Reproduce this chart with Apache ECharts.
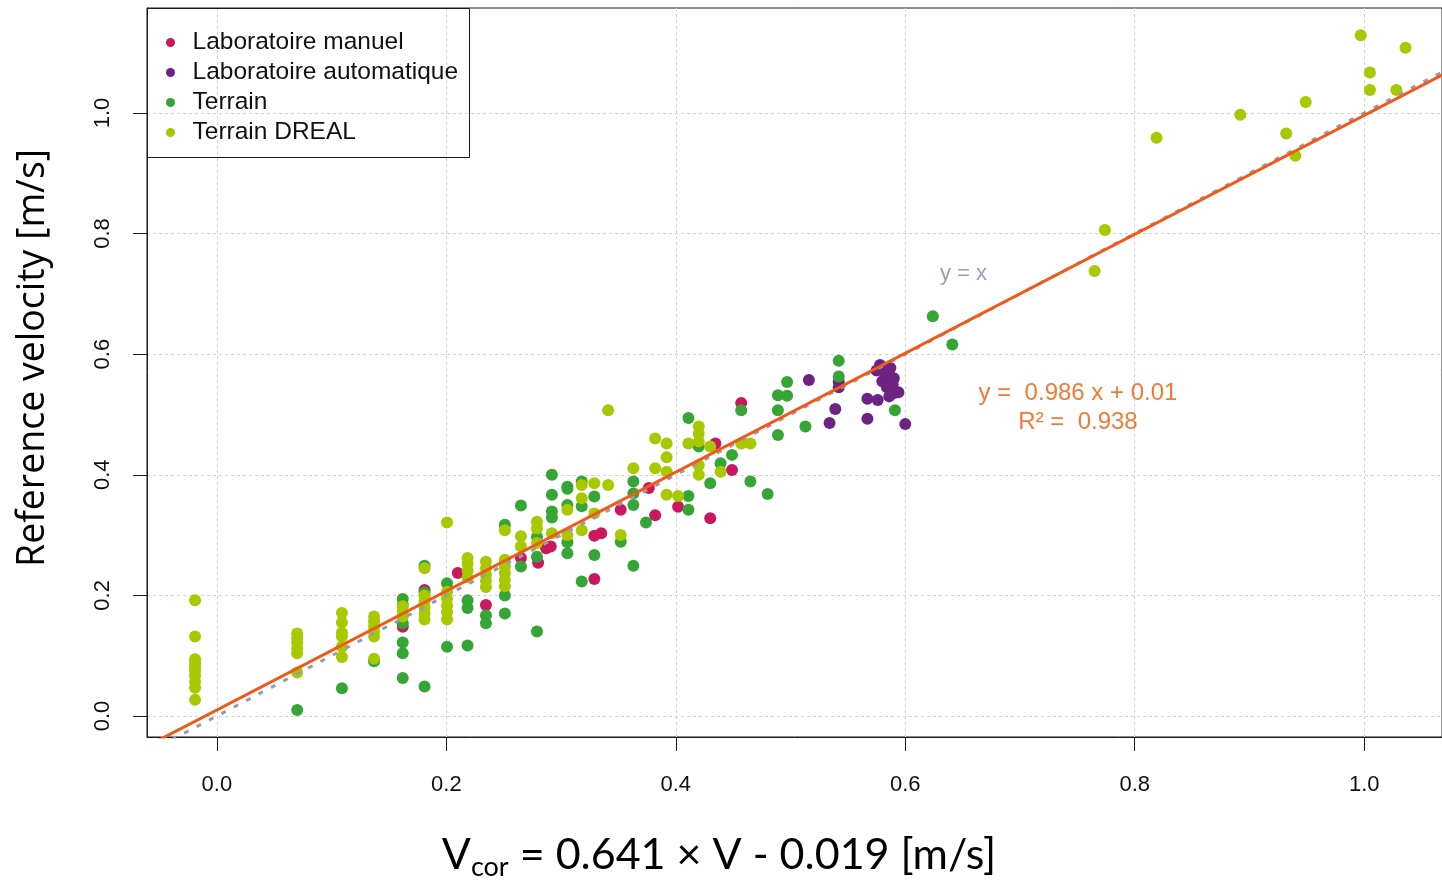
<!DOCTYPE html>
<html>
<head>
<meta charset="utf-8">
<script src="https://cdn.jsdelivr.net/npm/echarts@6/dist/echarts.min.js"></script>
<style>
  html, body { margin: 0; padding: 0; background: #ffffff; }
  #chart { width: 1442px; height: 881px; }
</style>
</head>
<body>
<div id="chart"></div>
<script>
// ---- data -----------------------------------------------------------------
const seriesNames = ['Laboratoire manuel', 'Laboratoire automatique', 'Terrain', 'Terrain DREAL'];
const seriesColors = ['#c9185f', '#6c2381', '#35a535', '#a8c800'];

// [corrected velocity, reference velocity] in m/s
const laboManuel = [
  [0.162, 0.148], [0.181, 0.209], [0.210, 0.237], [0.2345, 0.184], [0.265, 0.262],
  [0.280, 0.254], [0.287, 0.278], [0.291, 0.281], [0.329, 0.299], [0.335, 0.303],
  [0.329, 0.227], [0.352, 0.342], [0.3765, 0.378], [0.382, 0.333], [0.402, 0.347],
  [0.430, 0.328], [0.4345, 0.452], [0.449, 0.408], [0.457, 0.519]
];

const laboAuto = [
  [0.516, 0.557], [0.534, 0.486], [0.539, 0.509], [0.542, 0.554], [0.542, 0.545],
  [0.567, 0.526], [0.567, 0.493], [0.576, 0.524], [0.578, 0.582], [0.587, 0.577],
  [0.583, 0.563], [0.590, 0.560], [0.580, 0.555], [0.584, 0.545], [0.591, 0.536],
  [0.594, 0.537], [0.586, 0.530], [0.589, 0.550], [0.582, 0.570], [0.575, 0.573],
  [0.600, 0.484]
];

const terrain = [
  [0.070, 0.010], [0.109, 0.046], [0.137, 0.091],
  [0.162, 0.194], [0.162, 0.184], [0.162, 0.154], [0.162, 0.122], [0.162, 0.104], [0.162, 0.063],
  [0.181, 0.249], [0.181, 0.205], [0.181, 0.049],
  [0.2006, 0.220], [0.2006, 0.115],
  [0.2185, 0.192], [0.2185, 0.179], [0.2185, 0.117],
  [0.2345, 0.167], [0.2345, 0.154],
  [0.251, 0.317], [0.251, 0.200], [0.251, 0.170],
  [0.265, 0.349], [0.265, 0.248],
  [0.279, 0.297], [0.279, 0.264], [0.279, 0.140],
  [0.292, 0.400], [0.292, 0.367], [0.292, 0.339], [0.292, 0.329],
  [0.3055, 0.380], [0.3055, 0.377], [0.3055, 0.350], [0.3055, 0.288], [0.3055, 0.270],
  [0.318, 0.389], [0.318, 0.348], [0.318, 0.223],
  [0.329, 0.364], [0.329, 0.267],
  [0.352, 0.289],
  [0.363, 0.389], [0.363, 0.369], [0.363, 0.350], [0.363, 0.249],
  [0.374, 0.321],
  [0.411, 0.494], [0.411, 0.365], [0.411, 0.342],
  [0.420, 0.447], [0.430, 0.386], [0.439, 0.419], [0.449, 0.433],
  [0.457, 0.507], [0.465, 0.389], [0.480, 0.368],
  [0.489, 0.532], [0.489, 0.507], [0.489, 0.466],
  [0.497, 0.554], [0.497, 0.531], [0.513, 0.480],
  [0.542, 0.589], [0.542, 0.563], [0.591, 0.507],
  [0.624, 0.663], [0.641, 0.616]
];

const terrainDreal = [
  [-0.019, 0.192], [-0.019, 0.132], [-0.019, 0.094], [-0.019, 0.088], [-0.019, 0.082],
  [-0.019, 0.076], [-0.019, 0.067], [-0.019, 0.057], [-0.019, 0.047], [-0.019, 0.027],
  [0.070, 0.137], [0.070, 0.129], [0.070, 0.121], [0.070, 0.112], [0.070, 0.104], [0.070, 0.072],
  [0.109, 0.171], [0.109, 0.155], [0.109, 0.138], [0.109, 0.132], [0.109, 0.115], [0.109, 0.098],
  [0.137, 0.165], [0.137, 0.157], [0.137, 0.149], [0.137, 0.140], [0.137, 0.132], [0.137, 0.095],
  [0.162, 0.182], [0.162, 0.173], [0.162, 0.165],
  [0.181, 0.245], [0.181, 0.200], [0.181, 0.190], [0.181, 0.180], [0.181, 0.170], [0.181, 0.160],
  [0.2006, 0.321], [0.2006, 0.206], [0.2006, 0.195], [0.2006, 0.183], [0.2006, 0.172], [0.2006, 0.160],
  [0.2185, 0.262], [0.2185, 0.252], [0.2185, 0.241], [0.2185, 0.230],
  [0.2345, 0.256], [0.2345, 0.245], [0.2345, 0.234], [0.2345, 0.224], [0.2345, 0.214],
  [0.251, 0.308], [0.251, 0.259], [0.251, 0.248], [0.251, 0.237], [0.251, 0.226], [0.251, 0.215],
  [0.265, 0.298], [0.265, 0.281],
  [0.279, 0.322], [0.279, 0.311], [0.279, 0.287],
  [0.292, 0.303], [0.3055, 0.342], [0.3055, 0.300],
  [0.318, 0.383], [0.318, 0.361], [0.318, 0.308],
  [0.329, 0.386], [0.329, 0.336],
  [0.341, 0.507], [0.341, 0.383], [0.352, 0.300], [0.363, 0.411],
  [0.382, 0.460], [0.382, 0.411],
  [0.392, 0.452], [0.392, 0.429], [0.392, 0.405], [0.392, 0.367],
  [0.402, 0.365], [0.411, 0.452],
  [0.420, 0.480], [0.420, 0.468], [0.420, 0.455], [0.420, 0.416], [0.420, 0.400],
  [0.430, 0.447], [0.439, 0.405], [0.457, 0.452], [0.465, 0.452],
  [0.765, 0.738], [0.774, 0.806], [0.819, 0.959], [0.892, 0.997], [0.932, 0.966],
  [0.940, 0.929], [0.949, 1.018], [0.997, 1.129], [1.005, 1.067], [1.005, 1.038],
  [1.028, 1.038], [1.036, 1.108]
];

const xTicks = [0.0, 0.2, 0.4, 0.6, 0.8, 1.0];
const yTicks = [0.0, 0.2, 0.4, 0.6, 0.8, 1.0];

// linear fit of reference velocity on corrected velocity
const fitSlope = 0.986;
const fitIntercept = 0.01;
const fitR2 = 0.938;

// axis ranges
const X_MIN = -0.0609, X_MAX = 1.0678;
const Y_MIN = -0.0348, Y_MAX = 1.174;

// ---- chart ----------------------------------------------------------------
const allSeries = [laboManuel, laboAuto, terrain, terrainDreal];
const fitAt = x => fitSlope * x + fitIntercept;

const tickFont = { fontFamily: 'Liberation Sans', fontSize: 22, color: '#111111' };

const chart = echarts.init(document.getElementById('chart'), null, { renderer: 'canvas' });

chart.setOption({
  animation: false,
  backgroundColor: '#ffffff',
  grid: {
    left: 147, top: 8, right: -3, bottom: 144,
    show: true, borderColor: '#1a1a1a', borderWidth: 1, backgroundColor: 'transparent'
  },
  xAxis: {
    type: 'value', min: X_MIN, max: X_MAX,
    axisLine: { show: true, onZero: false, lineStyle: { color: '#1a1a1a', width: 1 } },
    axisTick: { show: true, customValues: xTicks, length: 14, lineStyle: { color: '#1a1a1a' } },
    axisLabel: Object.assign({ customValues: xTicks, margin: 37, formatter: v => v.toFixed(1) }, tickFont),
    splitLine: { show: true, lineStyle: { color: '#d2d2d2', width: 1, type: [3, 3] } }
  },
  yAxis: {
    type: 'value', min: Y_MIN, max: Y_MAX,
    axisLine: { show: true, onZero: false, lineStyle: { color: '#1a1a1a', width: 1 } },
    axisTick: { show: true, customValues: yTicks, length: 14, lineStyle: { color: '#1a1a1a' } },
    axisLabel: Object.assign({ customValues: yTicks, margin: 33, rotate: 90, formatter: v => v.toFixed(1) }, tickFont),
    splitLine: { show: true, lineStyle: { color: '#d2d2d2', width: 1, type: [3, 3] } }
  },
  legend: {
    data: seriesNames,
    orient: 'vertical',
    left: 166, top: 30,
    padding: 0,
    itemGap: 5,
    icon: 'circle',
    itemWidth: 34, itemHeight: 9,
    textStyle: { fontFamily: 'Liberation Sans', fontSize: 24.5, color: '#111111' }
  },
  series: [
    ...allSeries.map((d, i) => ({
      name: seriesNames[i],
      type: 'scatter',
      data: d,
      symbol: 'circle',
      symbolSize: 12,
      itemStyle: { color: seriesColors[i], opacity: 1 },
      z: 2 + i * 0.1
    })),
    {
      name: 'y = x',
      type: 'line',
      data: [[X_MIN, X_MIN], [X_MAX, X_MAX]],
      showSymbol: false, symbol: 'none', silent: true, clip: true,
      lineStyle: { color: '#9a9aae', width: 3, type: [5, 9] },
      z: 3
    },
    {
      name: 'fit',
      type: 'line',
      data: [[X_MIN, fitAt(X_MIN)], [X_MAX, fitAt(X_MAX)]],
      showSymbol: false, symbol: 'none', silent: true, clip: true,
      lineStyle: { color: '#f05a16', width: 3 },
      z: 4
    }
  ],
  graphic: [
    // legend frame
    { type: 'rect', shape: { x: 147.5, y: 8.5, width: 322, height: 149 },
      style: { fill: 'none', stroke: '#1a1a1a', lineWidth: 1 }, z: 10 },
    // identity line label
    { type: 'text', x: 940, y: 274,
      style: { text: 'y = x', fill: '#97a0bb', fontFamily: 'Liberation Sans', fontSize: 22,
               align: 'left', verticalAlign: 'middle' }, z: 10 },
    // regression equation
    { type: 'text', x: 1078, y: 393,
      style: { text: 'y =  ' + fitSlope + ' x + ' + fitIntercept, fill: '#f27a36',
               fontFamily: 'Liberation Sans', fontSize: 24, align: 'center', verticalAlign: 'middle' }, z: 10 },
    { type: 'text', x: 1078, y: 422,
      style: { text: 'R\u00b2 =  ' + fitR2.toFixed(3), fill: '#f27a36',
               fontFamily: 'Liberation Sans', fontSize: 24, align: 'center', verticalAlign: 'middle' }, z: 10 },
    // axis titles
    { type: 'text', x: 33, y: 358, rotation: Math.PI / 2,
      style: { text: 'Reference velocity [m/s]', fill: '#000000', fontFamily: 'Open Sans', fontSize: 37.5,
               align: 'center', verticalAlign: 'middle' }, z: 10 },
    { type: 'text', x: 719, y: 855,
      style: {
        text: '{v|V}{s|cor}{v| = 0.641 \u00d7 V - 0.019 [m/s]}',
        align: 'center', verticalAlign: 'middle',
        rich: {
          v: { fontFamily: 'Lato', fontSize: 43, lineHeight: 52, fill: '#000000' },
          s: { fontFamily: 'Lato', fontSize: 27, lineHeight: 24, verticalAlign: 'bottom', fill: '#000000' }
        }
      }, z: 10 }
  ]
});
</script>
</body>
</html>
